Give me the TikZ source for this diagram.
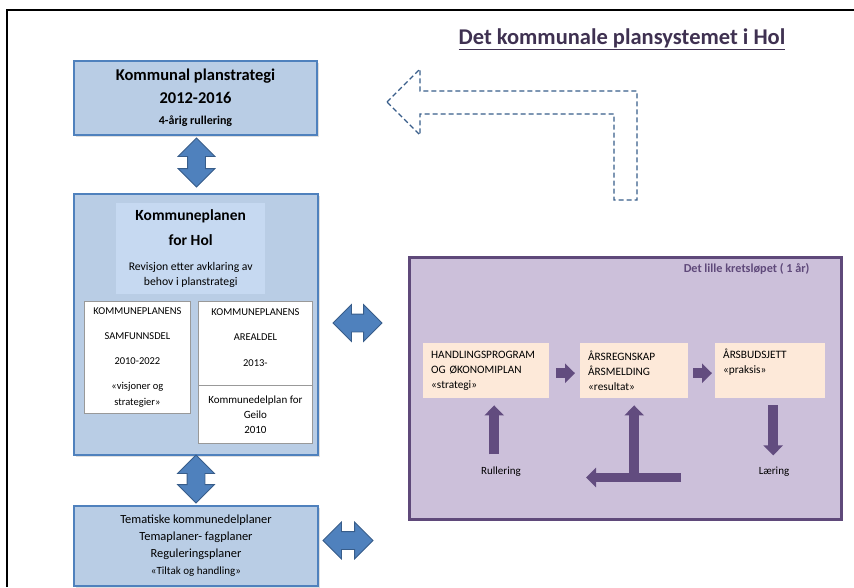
\documentclass[tikz,border=0pt]{standalone}
\usepackage{fontspec}
\setmainfont{Carlito}
\usepackage{tikz}
\usetikzlibrary{positioning,shapes.arrows,shadows,arrows.meta}

\definecolor{blueline}{HTML}{4F81BD}
\definecolor{blueedge}{HTML}{385D8A}
\definecolor{bluefill}{HTML}{B9CDE5}
\definecolor{bluepanel}{HTML}{C6D9F1}
\definecolor{purpleline}{HTML}{5F497A}
\definecolor{purplefill}{HTML}{CCC0DA}
\definecolor{purplearrow}{HTML}{624C7F}
\definecolor{peach}{HTML}{FDE9D9}
\definecolor{titlecol}{HTML}{3F3151}

\tikzset{
	bluebox/.style={draw=blueline, line width=2pt, fill=bluefill, anchor=north west,
		drop shadow={shadow xshift=1.5pt, shadow yshift=-2pt, opacity=0.25}},
	whitebox/.style={draw=gray!80, line width=0.8pt, fill=white, anchor=north west},
	peachbox/.style={fill=peach, anchor=north west, align=left, inner xsep=8pt,
		font=\fontsize{11.3}{15}\selectfont},
	dblarrow/.style={double arrow, fill=blueline, draw=blueedge, line width=0.8pt,
		double arrow head extend=9.5pt, inner sep=8.5pt},
	parrow/.style={line width=9.5pt, draw=purplearrow, -{Triangle[width=19pt,length=10pt]}},
}

\begin{document}
\begin{tikzpicture}[x=1pt,y=-1pt]
	\useasboundingbox (0,0) rectangle (854,587);
	\draw[line width=1.3pt] (7,587) -- (7,10) -- (854,10);

	\node[font=\bfseries\fontsize{22.5}{26}\selectfont, text=titlecol] (title) at (622,39) {\underline{Det kommunale plansystemet i Hol}};

	% venstre kolonne
	\node[bluebox, minimum width=243pt, minimum height=74pt, align=center,
		font=\bfseries\fontsize{16.5}{21}\selectfont] (strategi) at (73,60)
		{Kommunal planstrategi\\[2pt]2012-2016\\{\fontsize{12}{12}\selectfont 4-årig rullering}};

	\node[bluebox, minimum width=244pt, minimum height=261pt] (kplan) at (73,193) {};
	\node[fill=bluepanel, anchor=north west, minimum width=149pt, minimum height=91pt, align=center,
		font=\fontsize{11.7}{15}\selectfont] (kplanhead) at (116,203)
		{{\bfseries\fontsize{15.5}{15}\selectfont Kommuneplanen}\\[10pt]{\bfseries\fontsize{15.5}{15}\selectfont for Hol}\\[10pt]Revisjon etter avklaring av\\behov i planstrategi};

	\node[whitebox, minimum width=106pt, minimum height=112pt, align=center,
		font=\fontsize{10.5}{16}\selectfont] (samfunn) at (84,301)
		{KOMMUNEPLANENS\\[9pt]SAMFUNNSDEL\\[9pt]2010-2022\\[9pt]«visjoner og\\strategier»};
	\node[whitebox, minimum width=114pt, minimum height=84pt] (areal) at (198,301) {};
	\node[below=7pt of areal.north, inner sep=0pt, align=center,
		font=\fontsize{10.5}{25.5}\selectfont] (arealtxt) {KOMMUNEPLANENS\\AREALDEL\\2013-};
	\node[whitebox, minimum width=114pt, minimum height=58pt, align=center,
		font=\fontsize{11}{15}\selectfont] (geilo) at (198,385)
		{Kommunedelplan for\\Geilo\\2010};

	\node[bluebox, minimum width=244pt, minimum height=80pt, align=center,
		font=\fontsize{12.4}{17}\selectfont] (tema) at (73,505)
		{Tematiske kommunedelplaner\\Temaplaner- fagplaner\\Reguleringsplaner\\{\fontsize{11}{12}\selectfont«Tiltak og handling»}};

	\node[dblarrow, shape border rotate=90, minimum height=49pt] (ud1) at (196.5,162.5) {};
	\node[dblarrow, shape border rotate=90, minimum height=48pt] (ud2) at (196,479) {};
	\node[dblarrow, minimum height=49pt] (lr1) at (357.5,323) {};
	\node[dblarrow, minimum height=50pt] (lr2) at (348,540.5) {};

	% tilbakepil
	\draw[blueedge, line width=1.4pt, dash pattern=on 5pt off 3pt, line join=miter]
		(387,102) -- (420,69) -- (420,91) -- (637,91) -- (637,200) -- (614,200)
		-- (614,114) -- (420,114) -- (420,135) -- cycle;

	% det lille kretsløpet
	\node[draw=purpleline, line width=2.5pt, fill=purplefill, anchor=north west,
		minimum width=432pt, minimum height=262pt,
		drop shadow={shadow xshift=1.5pt, shadow yshift=-2pt, opacity=0.25}] (krets) at (408,256) {};
	\node[font=\bfseries\fontsize{12.2}{14}\selectfont, text=purpleline, anchor=east] (kretstitle) at (813,269) {Det lille kretsløpet ( 1 år)};

	\node[peachbox, minimum width=126pt, minimum height=55pt, text width=110pt] (hp) at (423,343)
		{HANDLINGSPROGRAM\\OG ØKONOMIPLAN\\«strategi»};
	\node[peachbox, minimum width=108pt, minimum height=55pt, text width=92pt] (rs) at (580,343)
		{ÅRSREGNSKAP\\ÅRSMELDING\\«resultat»};
	\node[peachbox, minimum width=110pt, minimum height=55pt, text width=94pt] (budsjett) at (715,343)
		{ÅRSBUDSJETT\\«praksis»\\\strut};

	\node[font=\fontsize{11}{13}\selectfont] (rull) at (501,472) {Rullering};
	\node[font=\fontsize{11}{13}\selectfont] (laering) at (774,472) {Læring};

	\draw[parrow] ([xshift=7pt,yshift=-2.5pt]hp.east) -- ([xshift=-5pt,yshift=-2.5pt]rs.west);
	\draw[parrow] ([xshift=5pt,yshift=-2.5pt]rs.east) -- ([xshift=-3pt,yshift=-2.5pt]budsjett.west);
	\draw[parrow] ([xshift=8pt,yshift=-56pt]hp.south) -- ([xshift=8pt,yshift=-7pt]hp.south);
	\draw[parrow] ([xshift=3pt,yshift=-7pt]budsjett.south) -- ([xshift=3pt,yshift=-57pt]budsjett.south);
	\coordinate (tjoin) at (681,477.5);
	\coordinate (tend) at (586,477.5);
	\draw[parrow, -] ([yshift=-75pt]rs.south) -- ([yshift=-17pt]rs.south);
	\draw[parrow] ([yshift=-20pt]rs.south) -- ([yshift=-7pt]rs.south);
	\draw[parrow] (tjoin) -- (tend);
\end{tikzpicture}
\end{document}
